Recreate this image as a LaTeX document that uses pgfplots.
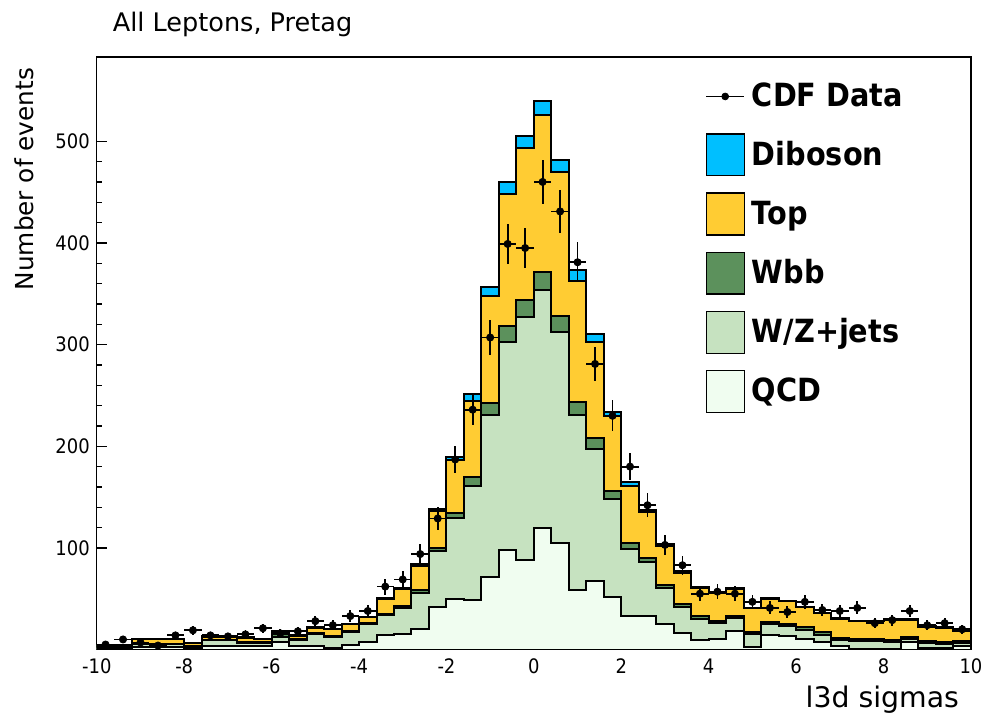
\documentclass[border=0pt]{standalone}
\usepackage{fontspec}
\setmainfont{DejaVu Sans}
\newfontfamily\condfont{DejaVu Sans Condensed}
\usepackage{pgfplots}
\usepackage{pgfplotstable}
\pgfplotsset{compat=1.18}

\definecolor{diboson}{RGB}{0,191,255}
\definecolor{topc}{RGB}{255,204,51}
\definecolor{wbb}{RGB}{92,145,92}
\definecolor{wzjets}{RGB}{198,226,192}
\definecolor{qcd}{RGB}{240,253,240}

% cumulative stack heights at left bin edges (bin width 0.4)
\pgfplotstableread{
x qcd wz wbb top dib
-10.0 1.5 2.8 3.0 4.8 5.0
-9.6 1.5 2.8 3.0 4.8 5.0
-9.2 3.0 5.5 6.0 10.0 10.4
-8.8 3.0 5.5 6.0 10.0 10.4
-8.4 3.0 5.5 6.0 10.0 10.4
-8.0 1.0 3.0 3.5 6.2 6.5
-7.6 4.0 9.0 9.5 12.6 13.0
-7.2 4.0 9.0 9.5 12.6 13.0
-6.8 3.5 7.0 7.8 11.6 12.0
-6.4 3.4 7.0 7.5 10.3 10.6
-6.0 7.3 12.0 15.5 17.8 18.2
-5.6 3.4 9.6 10.0 13.6 13.9
-5.2 4.0 15.5 16.5 21.6 22.0
-4.8 1.4 12.8 13.5 20.0 20.4
-4.4 4.7 17.0 18.0 25.0 25.3
-4.0 7.3 25.0 26.0 32.0 32.5
-3.6 14.5 34.5 35.5 50.0 50.8
-3.2 15.0 41.0 42.5 60.0 60.8
-2.8 20.4 55.8 58.7 82.0 84.3
-2.4 41.7 96.7 100.0 136.0 138.0
-2.0 49.9 129.0 134.4 186.4 189.7
-1.6 49.2 161.2 169.4 244.7 251.0
-1.2 71.8 231.0 243.0 348.0 357.0
-0.8 98.0 303.0 318.0 448.0 460.0
-0.4 88.5 327.0 344.0 493.0 505.0
0.0 119.6 354.0 371.0 526.0 540.0
0.4 104.6 312.0 328.0 470.0 482.0
0.8 59.0 231.0 243.7 363.0 373.0
1.2 67.6 197.0 208.0 303.0 310.0
1.6 52.2 148.0 155.7 230.0 234.0
2.0 32.9 99.0 104.6 161.0 164.5
2.4 33.5 86.0 90.0 135.0 137.6
2.8 25.3 60.7 64.0 101.6 104.0
3.2 16.5 41.7 45.0 75.4 77.7
3.6 9.5 30.0 33.0 60.4 62.0
4.0 10.6 26.3 28.6 56.0 57.0
4.4 18.5 31.0 33.5 59.7 60.5
4.8 2.4 15.5 17.8 40.5 41.0
5.2 14.5 25.3 27.6 49.9 50.5
5.6 13.2 23.0 25.3 47.6 48.2
6.0 10.6 19.4 22.0 41.7 42.3
6.4 7.4 14.8 17.2 35.8 36.3
6.8 3.4 9.0 11.3 30.3 30.8
7.2 1.0 8.0 10.0 28.0 28.4
7.6 1.0 8.0 10.0 28.0 28.4
8.0 1.0 7.4 9.0 29.3 29.7
8.4 7.4 10.6 12.3 29.6 30.0
8.8 1.5 6.7 8.3 22.7 23.0
9.2 1.5 6.0 7.4 21.4 21.8
9.6 4.0 6.7 8.3 18.8 19.2
10.0 4.0 6.7 8.3 18.8 19.2
}\stack

\pgfplotstableread{
x y ex ey
-9.8 5 0.2 2.24
-9.4 10 0.2 3.16
-9.0 7 0.2 2.65
-8.6 4 0.2 2.00
-8.2 14 0.2 3.74
-7.8 19 0.2 4.36
-7.4 14 0.2 3.74
-7.0 13 0.2 3.61
-6.6 15 0.2 3.87
-6.2 21 0.2 4.58
-5.8 16 0.2 4.00
-5.4 18 0.2 4.24
-5.0 28 0.2 5.29
-4.6 24 0.2 4.90
-4.2 33 0.2 5.74
-3.8 38 0.2 6.16
-3.4 62 0.2 7.87
-3.0 69 0.2 8.31
-2.6 94 0.2 9.70
-2.2 129 0.2 11.36
-1.8 187 0.2 13.67
-1.4 236 0.2 15.36
-1.0 307 0.2 17.52
-0.6 399 0.2 19.97
-0.2 395 0.2 19.87
0.2 460 0.2 21.45
0.6 431 0.2 20.76
1.0 381 0.2 19.52
1.4 281 0.2 16.76
1.8 230 0.2 15.17
2.2 180 0.2 13.42
2.6 142 0.2 11.92
3.0 103 0.2 10.15
3.4 83 0.2 9.11
3.8 55 0.2 7.42
4.2 57 0.2 7.55
4.6 55 0.2 7.42
5.0 47 0.2 6.86
5.4 41 0.2 6.40
5.8 37 0.2 6.08
6.2 47 0.2 6.86
6.6 39 0.2 6.24
7.0 38 0.2 6.16
7.4 41 0.2 6.40
7.8 26 0.2 5.10
8.2 29 0.2 5.39
8.6 38 0.2 6.16
9.0 24 0.2 4.90
9.4 26 0.2 5.10
9.8 20 0.2 4.47
}\data

\begin{document}
\begin{tikzpicture}
\path (-48.5pt,-33pt) rectangle (446pt,325.5pt);
\begin{axis}[
  scale only axis, width=438pt, height=297pt,
  xmin=-10, xmax=10, ymin=0, ymax=583,
  axis line style={black, line width=0.7pt},
  xtick={-10,-8,-6,-4,-2,0,2,4,6,8,10},
  xticklabels={-10,-8,-6,-4,-2,0,2,4,6,8,10},
  ytick={100,200,300,400,500},
  yticklabels={100,200,300,400,500},
  minor x tick num=3, minor y tick num=4,
  tick pos=left, tick align=inside,
  major tick length=5pt, minor tick length=2.5pt,
  every tick/.style={black, line width=0.6pt},
  tick label style={font=\condfont\fontsize{10}{12}\selectfont},
  xticklabel style={yshift=-1pt},
  legend style={draw=none, fill=none, at={(0.689,0.976)}, anchor=north west,
    font=\condfont\bfseries\fontsize{16}{19}\selectfont, row sep=8pt,
    nodes={inner xsep=3.5pt, inner ysep=0pt}},
  legend cell align=left,
]
\addlegendimage{legend image code/.code={\path[draw=none, fill=none] (0pt,-10.5pt) rectangle (19pt,10.5pt); \draw[black, line width=0.8pt] (0pt,0pt) -- (19pt,0pt); \fill[black] (9.5pt,0pt) circle (1.7pt);}}
\addlegendentry{CDF Data}
\addlegendimage{legend image code/.code={\draw[fill=diboson, draw=black, line width=0.6pt] (0pt,-10.5pt) rectangle (19pt,10.5pt);}}
\addlegendentry{Diboson}
\addlegendimage{legend image code/.code={\draw[fill=topc, draw=black, line width=0.6pt] (0pt,-10.5pt) rectangle (19pt,10.5pt);}}
\addlegendentry{Top}
\addlegendimage{legend image code/.code={\draw[fill=wbb, draw=black, line width=0.6pt] (0pt,-10.5pt) rectangle (19pt,10.5pt);}}
\addlegendentry{Wbb}
\addlegendimage{legend image code/.code={\draw[fill=wzjets, draw=black, line width=0.6pt] (0pt,-10.5pt) rectangle (19pt,10.5pt);}}
\addlegendentry{W/Z+jets}
\addlegendimage{legend image code/.code={\draw[fill=qcd, draw=black, line width=0.6pt] (0pt,-10.5pt) rectangle (19pt,10.5pt);}}
\addlegendentry{QCD}

\addplot[const plot, fill=diboson, draw=black, line width=1pt, forget plot] table[x=x, y=dib]{\stack} \closedcycle;
\addplot[const plot, fill=topc, draw=black, line width=1pt, forget plot] table[x=x, y=top]{\stack} \closedcycle;
\addplot[const plot, fill=wbb, draw=black, line width=1pt, forget plot] table[x=x, y=wbb]{\stack} \closedcycle;
\addplot[const plot, fill=wzjets, draw=black, line width=1pt, forget plot] table[x=x, y=wz]{\stack} \closedcycle;
\addplot[const plot, fill=qcd, draw=black, line width=1pt, forget plot] table[x=x, y=qcd]{\stack} \closedcycle;

\addplot[only marks, mark=*, mark size=1.8pt, black, forget plot,
  error bars/.cd, x dir=both, x explicit, y dir=both, y explicit,
  error mark=none, error bar style={line width=0.9pt, black}]
  table[x=x, y=y, x error=ex, y error=ey]{\data};
\end{axis}
\node[anchor=west, font=\fontsize{12.8}{15}\selectfont] at (4.5pt,313pt) {All Leptons, Pretag};
\node[rotate=90, anchor=east, font=\fontsize{12.4}{15}\selectfont] at (-36.5pt,295pt) {Number of events};
\node[anchor=east, font=\fontsize{14.2}{16}\selectfont] at (435.5pt,-25pt) {l3d sigmas};
\end{tikzpicture}
\end{document}
